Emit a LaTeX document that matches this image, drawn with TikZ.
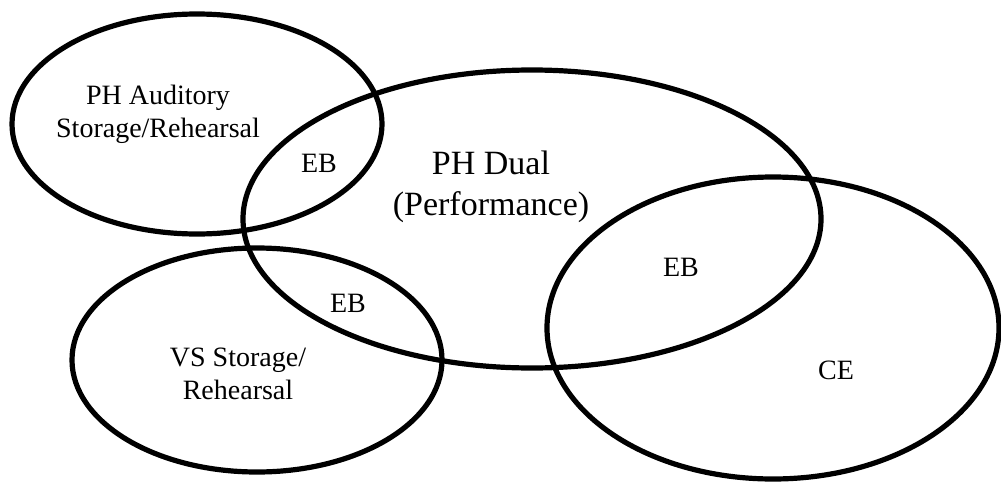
\documentclass[tikz,border=0pt]{standalone}
\usepackage{fontspec}
\setmainfont{Liberation Serif}
\begin{document}
\begin{tikzpicture}[x=0.5pt,y=-0.5pt,
  ring/.style={line width=2.6pt},
  lbl/.style={font=\fontsize{14}{16.5}\selectfont, align=center, inner sep=0pt},
  biglbl/.style={font=\fontsize{17}{20.5}\selectfont, align=center, inner sep=0pt}]
\useasboundingbox (0,0) rectangle (1001,482);
\coordinate (cA) at (197,124);
\coordinate (cD) at (532,219);
\coordinate (cV) at (257,360);
\coordinate (cC) at (773,328);
\draw[ring] (cA) ellipse [x radius=185, y radius=110];
\draw[ring] (cD) ellipse [x radius=289, y radius=149];
\draw[ring] (cV) ellipse [x radius=185, y radius=112];
\draw[ring] (cC) ellipse [x radius=226, y radius=151];
\node[lbl] (tA) at (158,114) {PH Auditory\\Storage/Rehearsal};
\node[biglbl] (tD) at (491,187) {PH Dual\\(Performance)};
\node[lbl] (tV) at (238,374) {VS Storage/\\Rehearsal};
\node[lbl] (eb1) at (319,163) {EB};
\node[lbl] (eb2) at (348,303) {EB};
\node[lbl] (eb3) at (681,267) {EB};
\node[lbl] (ce) at (836,370) {CE};
\end{tikzpicture}
\end{document}
